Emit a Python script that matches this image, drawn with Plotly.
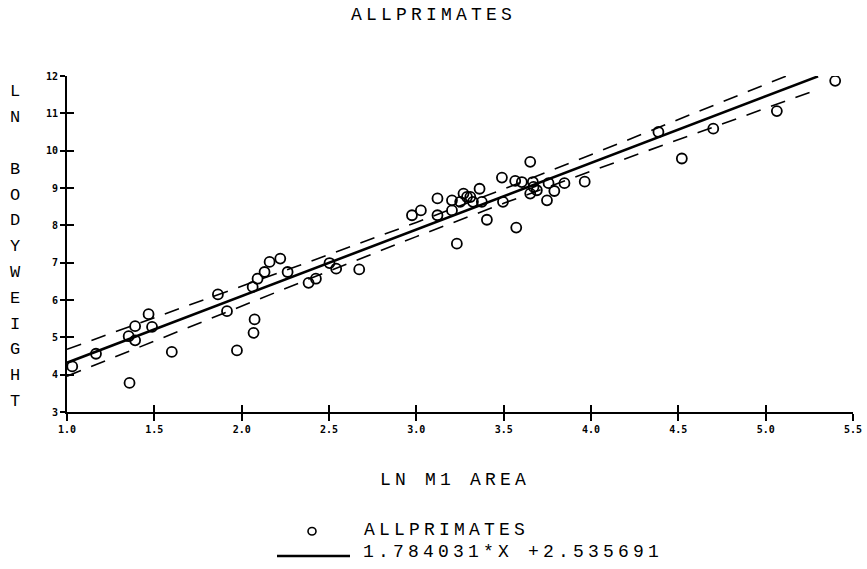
import plotly.graph_objects as go

# ---- data ----
ln_m1_area = [1.03, 1.166, 1.358, 1.353, 1.39, 1.39, 1.467, 1.487, 1.60,
              1.864, 1.916, 1.973, 2.063, 2.068, 2.074, 2.091, 2.131, 2.160, 2.221, 2.263,
              2.383, 2.425, 2.503, 2.541, 2.673,
              2.975, 3.026, 3.121, 3.121, 3.204, 3.204, 3.232, 3.251, 3.270, 3.290, 3.309,
              3.324, 3.362, 3.375, 3.404, 3.490, 3.496, 3.572, 3.566, 3.604, 3.652, 3.652,
              3.667, 3.671, 3.690, 3.748, 3.757, 3.790, 3.848, 3.964,
              4.386, 4.520, 4.700, 5.064, 5.398]
ln_bodyweight = [4.22, 4.56, 3.78, 5.03, 4.92, 5.30, 5.62, 5.28, 4.61,
                 6.15, 5.70, 4.65, 6.35, 5.12, 5.48, 6.57, 6.75, 7.02, 7.11, 6.75,
                 6.46, 6.57, 6.99, 6.84, 6.82,
                 8.27, 8.40, 8.72, 8.27, 8.67, 8.40, 7.51, 8.63, 8.85, 8.76, 8.76,
                 8.63, 8.98, 8.63, 8.15, 9.28, 8.63, 7.94, 9.19, 9.16, 9.70, 8.85,
                 9.16, 9.03, 8.94, 8.67, 9.13, 8.92, 9.13, 9.17,
                 10.50, 9.79, 10.59, 11.06, 11.87]

slope = 1.784031
intercept = 2.535691
fit_x = [1.0, 5.3]

band_x = [1.0, 1.5, 2.0, 2.5, 3.0, 3.5, 4.0, 4.5, 5.0, 5.3]
band_halfwidth = [0.36, 0.31, 0.26, 0.22, 0.19, 0.19, 0.22, 0.27, 0.32, 0.35]

x_ticks = [1.0, 1.5, 2.0, 2.5, 3.0, 3.5, 4.0, 4.5, 5.0, 5.5]
y_ticks = [3, 4, 5, 6, 7, 8, 9, 10, 11, 12]
y_title_letters = ["L", "N", "", "B", "O", "D", "Y", "W", "E", "I", "G", "H", "T"]

title_text = "ALLPRIMATES"
x_title = "LN M1 AREA"
legend_points = "ALLPRIMATES"
legend_fit = "1.784031*X +2.535691"

# ---- figure ----
W, H = 867, 569
ML, MR, MT, MB = 67, 14, 76, 157
PW, PH = W - ML - MR, H - MT - MB

def px_to_paper_x(px):
    return (px - ML) / PW

def px_to_paper_y(py):
    return (H - MB - py) / PH

FONT = "Liberation Mono"
TSIZE = 18
TICKFONT = dict(family="DejaVu Sans Mono", size=10, color="black", weight="bold")

fit_y = [slope * v + intercept for v in fit_x]
band_fit = [slope * v + intercept for v in band_x]
band_up = [f + h for f, h in zip(band_fit, band_halfwidth)]
band_lo = [f - h for f, h in zip(band_fit, band_halfwidth)]

fig = go.Figure()
fig.add_trace(go.Scatter(x=band_x, y=band_up, mode="lines",
                         line=dict(color="black", width=1.6, dash="15px,11px"),
                         showlegend=False, hoverinfo="skip"))
fig.add_trace(go.Scatter(x=band_x, y=band_lo, mode="lines",
                         line=dict(color="black", width=1.6, dash="15px,11px"),
                         showlegend=False, hoverinfo="skip"))
fig.add_trace(go.Scatter(x=fit_x, y=fit_y, mode="lines", name=legend_fit,
                         line=dict(color="black", width=2.6), showlegend=False))
fig.add_trace(go.Scatter(x=ln_m1_area, y=ln_bodyweight, mode="markers", name=legend_points,
                         marker=dict(symbol="circle-open", size=10, color="black",
                                     line=dict(color="black", width=1.8)),
                         showlegend=False))

axis_common = dict(showgrid=False, zeroline=False, showline=True, linecolor="black",
                   linewidth=2, ticks="outside", tickcolor="black", tickwidth=1.6,
                   tickfont=TICKFONT)

fig.update_layout(
    width=W, height=H,
    margin=dict(l=ML, r=MR, t=MT, b=MB, autoexpand=False),
    paper_bgcolor="white", plot_bgcolor="white",
    showlegend=False,
    title=dict(text=title_text, x=0.5, xref="container", y=1 - 14 / H, yref="container",
               xanchor="center", yanchor="middle",
               font=dict(family=FONT, size=TSIZE, color="black")),
    xaxis=dict(range=[1.0, 5.5], tickvals=x_ticks, ticktext=[f"{v:.1f}" for v in x_ticks],
               ticklen=7, **axis_common),
    yaxis=dict(range=[3, 12], tickvals=y_ticks, ticktext=[str(v) for v in y_ticks],
               ticklen=5, **axis_common),
    xaxis2=dict(range=[1.0, 5.5], overlaying="x", anchor="y", side="bottom",
                tickvals=x_ticks, ticks="inside", ticklen=7, tickwidth=1.6, tickcolor="black",
                showticklabels=False, showgrid=False, zeroline=False, showline=False),
    yaxis2=dict(range=[3, 12], overlaying="y", anchor="x", side="left",
                tickvals=y_ticks, ticks="inside", ticklen=7, tickwidth=1.6, tickcolor="black",
                showticklabels=False, showgrid=False, zeroline=False, showline=False),
)
# invisible trace so the overlay (inside-tick) axes render
fig.add_trace(go.Scatter(x=[1.0], y=[3], xaxis="x2", yaxis="y2", mode="markers",
                         marker=dict(opacity=0), showlegend=False, hoverinfo="skip"))

annotations = []
y0, step = 91.7, 25.83
for i, ch in enumerate(y_title_letters):
    if ch:
        annotations.append(dict(text=ch, x=px_to_paper_x(15), y=px_to_paper_y(y0 + i * step),
                                xref="paper", yref="paper", showarrow=False,
                                xanchor="center", yanchor="middle",
                                font=dict(family=FONT, size=17, color="black")))
annotations.append(dict(text=x_title, x=px_to_paper_x(455), y=px_to_paper_y(480),
                        xref="paper", yref="paper", showarrow=False,
                        xanchor="center", yanchor="middle",
                        font=dict(family=FONT, size=TSIZE, color="black")))
annotations.append(dict(text=legend_points, x=px_to_paper_x(363), y=px_to_paper_y(530),
                        xref="paper", yref="paper", showarrow=False, align="left",
                        xanchor="left", yanchor="middle", borderpad=0,
                        font=dict(family=FONT, size=TSIZE, color="black")))
annotations.append(dict(text=legend_fit, x=px_to_paper_x(362), y=px_to_paper_y(552),
                        xref="paper", yref="paper", showarrow=False, align="left",
                        xanchor="left", yanchor="middle", borderpad=0,
                        font=dict(family=FONT, size=TSIZE, color="black")))
fig.update_layout(annotations=annotations)

shapes = [
    dict(type="circle", xref="paper", yref="paper",
         x0=px_to_paper_x(308), x1=px_to_paper_x(316),
         y0=px_to_paper_y(527.5), y1=px_to_paper_y(535),
         line=dict(color="black", width=1.6)),
    dict(type="line", xref="paper", yref="paper",
         x0=px_to_paper_x(277), x1=px_to_paper_x(350),
         y0=px_to_paper_y(556), y1=px_to_paper_y(556),
         line=dict(color="black", width=2.6)),
]
fig.update_layout(shapes=shapes)

post = """
document.body.style.margin = '0px';
var gd = document.getElementById('{plot_id}');
function spaceText() {
  gd.querySelectorAll('.annotation-text, .gtitle').forEach(function (e) {
    if (e.textContent.length > 1) { e.style.letterSpacing = '4.2px'; }
  });
}
spaceText();
gd.on('plotly_afterplot', spaceText);
"""
fig.write_html("out.html", post_script=post, config={"displayModeBar": False})
